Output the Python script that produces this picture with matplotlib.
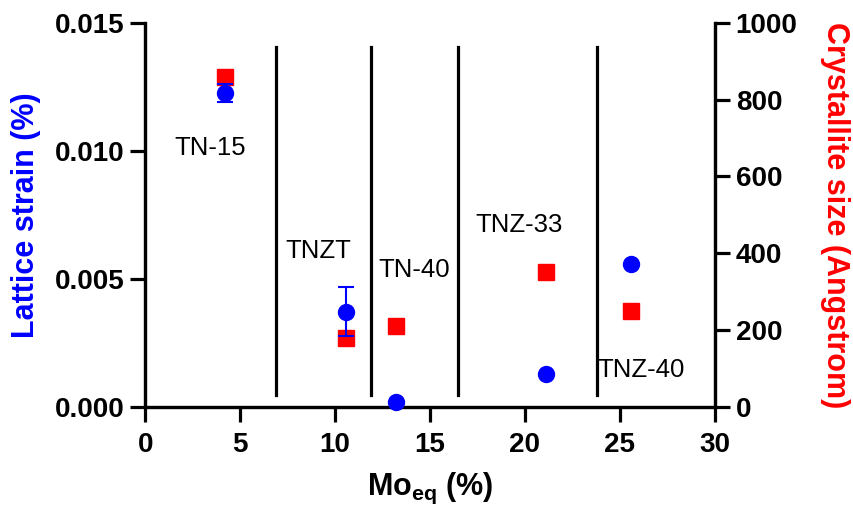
import matplotlib
matplotlib.use("Agg")
import matplotlib.pyplot as plt
from matplotlib.ticker import FormatStrFormatter

plt.rcParams['font.family'] = ['Liberation Sans', 'DejaVu Sans']
plt.rcParams['mathtext.fontset'] = 'custom'
plt.rcParams['mathtext.bf'] = 'Liberation Sans:bold'
plt.rcParams['mathtext.rm'] = 'Liberation Sans:bold'

# data
alloys = ['TN-15', 'TNZT', 'TN-40', 'TNZ-33', 'TNZ-40']
mo_eq = [4.2, 10.6, 13.2, 21.1, 25.6]
strain = [0.01227, 0.00372, 0.0002, 0.00129, 0.00557]
strain_err = [0.00035, 0.00096, 0, 0, 0]
size = [859, 180, 211, 352, 250]

dividers = [6.9, 11.9, 16.5, 23.8]
label_x = [3.4, 9.1, 14.15, 19.7, 26.1]
label_y = [0.0101, 0.0061, 0.00535, 0.0071, 0.00145]

fig = plt.figure(figsize=(8.54, 5.08), dpi=100)
ax = fig.add_axes([0.170, 0.199, 0.667, 0.756])
ax2 = ax.twinx()

ax.errorbar(mo_eq, strain, yerr=strain_err, fmt='o', color='#0000FF',
            ms=11.5, capsize=6, elinewidth=1.5, capthick=1.5, zorder=4,
            clip_on=False)
ax2.plot(mo_eq, size, 's', color='#FF0000', ms=11.5, zorder=3)
ax.set_zorder(ax2.get_zorder() + 1)
ax.patch.set_visible(False)

for d in dividers:
    ax.plot([d, d], [0.00047, 0.01406], color='black', lw=2.3)

for name, lx, ly in zip(alloys, label_x, label_y):
    ax.text(lx, ly, name, fontsize=18.5, ha='center', va='center')

ax.set_xlim(0, 30)
ax.set_ylim(0, 0.015)
ax2.set_ylim(0, 1000)
ax.set_xticks([0, 5, 10, 15, 20, 25, 30])
ax.set_yticks([0, 0.005, 0.010, 0.015])
ax.yaxis.set_major_formatter(FormatStrFormatter('%.3f'))
ax2.set_yticks([0, 200, 400, 600, 800, 1000])

for a in (ax, ax2):
    a.spines['top'].set_visible(False)
    for s in ('left', 'right', 'bottom'):
        a.spines[s].set_linewidth(2.3)
    a.tick_params(width=2.3, length=11, labelsize=20, pad=4)
    for lab in a.get_xticklabels() + a.get_yticklabels():
        lab.set_fontweight('bold')
ax.tick_params(axis='x', pad=7)

ax.set_xlabel(r'Mo$_{\mathbf{eq}}$ (%)', fontsize=22, fontweight='bold', labelpad=9)
ax.set_ylabel('Lattice strain (%)', fontsize=22, fontweight='bold',
              color='#0000FF', labelpad=10)
ax2.set_ylabel('Crystallite size (Angstrom)', fontsize=22, fontweight='bold',
               color='#FF0000', rotation=270, labelpad=38)

fig.savefig('out.png', dpi=100)
